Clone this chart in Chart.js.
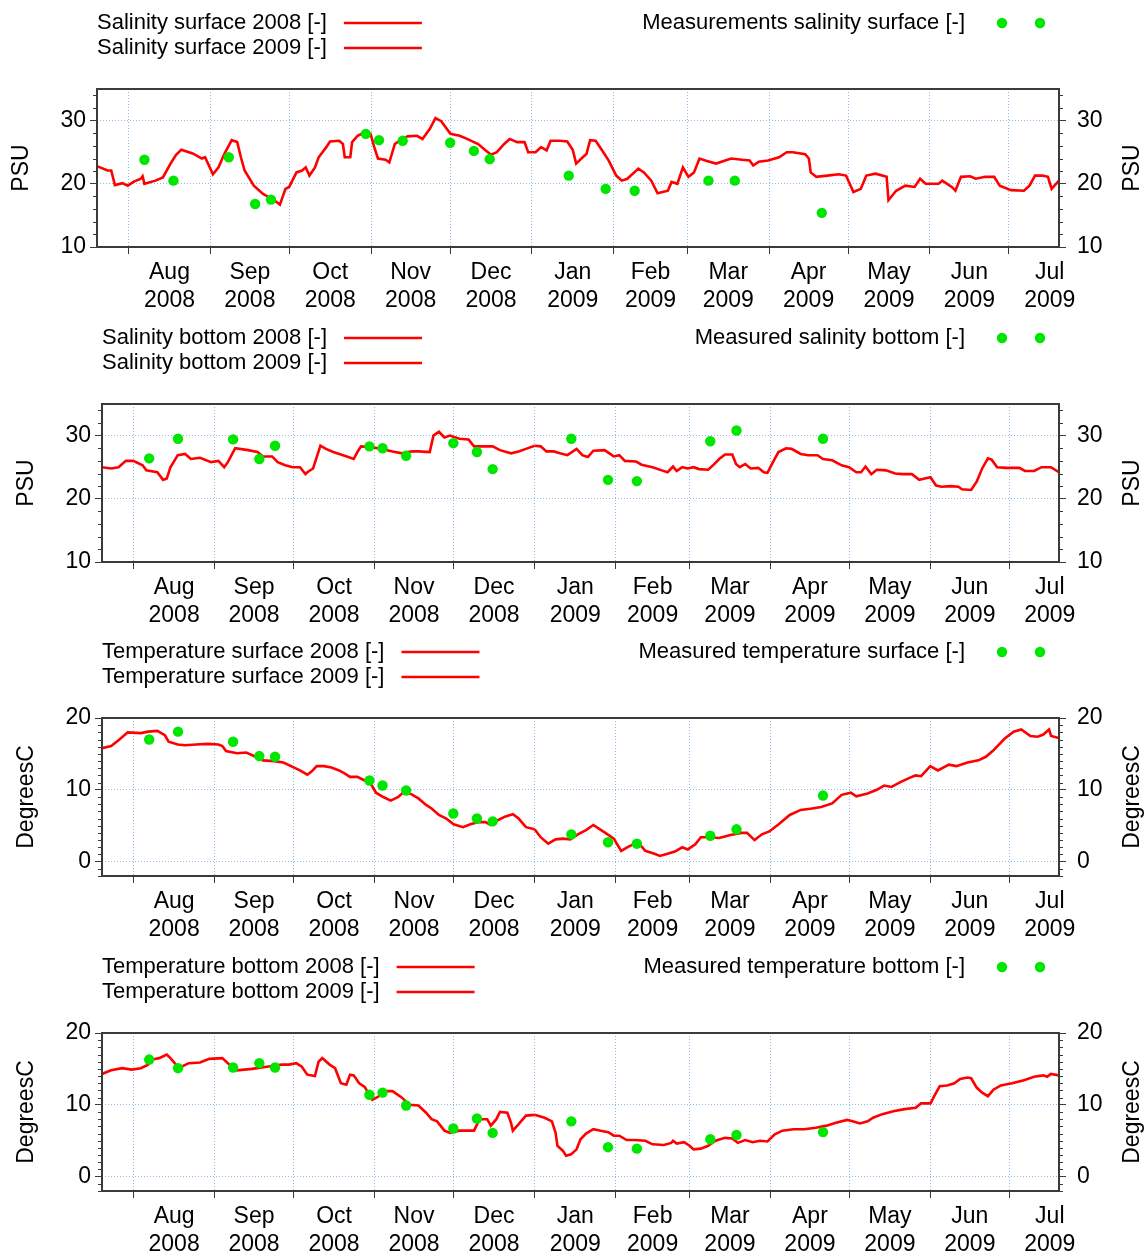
<!DOCTYPE html>
<html>
<head>
<meta charset="utf-8">
<title>Salinity and temperature 2008-2009</title>
<script src="https://cdn.jsdelivr.net/npm/chart.js@4.4.0/dist/chart.umd.min.js"></script>
<style>
  html, body { margin: 0; padding: 0; background: #fff; overflow: hidden; }
  canvas { position: absolute; left: 0; }
</style>
</head>
<body>
<canvas id="salSurf" width="1145" height="315" style="top:0px"></canvas>
<canvas id="salBot" width="1145" height="315" style="top:315px"></canvas>
<canvas id="tempSurf" width="1145" height="315" style="top:629px"></canvas>
<canvas id="tempBot" width="1145" height="315" style="top:944px"></canvas>
<script>
// x values of the model lines are days since 20 July 2008
const monthStarts = ['2008-08-01', '2008-09-01', '2008-10-01', '2008-11-01', '2008-12-01', '2009-01-01',
                     '2009-02-01', '2009-03-01', '2009-04-01', '2009-05-01', '2009-06-01', '2009-07-01'];
const monthNames = ['Aug', 'Sep', 'Oct', 'Nov', 'Dec', 'Jan', 'Feb', 'Mar', 'Apr', 'May', 'Jun', 'Jul'];
const monthYears = ['2008', '2008', '2008', '2008', '2008', '2009', '2009', '2009', '2009', '2009', '2009', '2009'];

const psuTicks = [10, 20, 30];
const degTicks = [0, 10, 20];

// sampling campaigns
const sampleDates = ['2008-08-07', '2008-08-18', '2008-09-08', '2008-09-18', '2008-09-24', '2008-10-30',
                     '2008-11-04', '2008-11-13', '2008-12-01', '2008-12-10', '2008-12-16', '2009-01-15',
                     '2009-01-29', '2009-02-09', '2009-03-09', '2009-03-19', '2009-04-21'];
const measSalSurf = [23.8, 20.5, 24.2, 16.8, 17.5, 27.9, 26.9, 26.8, 26.5, 25.2, 23.9, 21.3, 19.2, 18.9, 20.5, 20.5, 15.4];
const measSalBot = [26.4, 29.5, 29.4, 26.3, 28.4, 28.3, 28.0, 26.8, 28.8, 27.4, 24.7, 29.5, 23.0, 22.8, 29.1, 30.8, 29.5];
const measTempSurf = [17.0, 18.1, 16.7, 14.7, 14.6, 11.3, 10.6, 9.9, 6.7, 6.0, 5.6, 3.8, 2.7, 2.5, 3.6, 4.5, 9.2];
const measTempBot = [16.3, 15.1, 15.2, 15.8, 15.2, 11.4, 11.7, 9.9, 6.7, 8.1, 6.1, 7.7, 4.1, 3.9, 5.2, 5.8, 6.2];

// model output [day, value]
const salSurf2008 = [[0,22.8],[4,22.1],[5.4,22.1],[6.8,19.8],[9.6,20.1],[11.7,19.7],[13.8,20.3],[16.6,20.8],[17.3,21.2],
  [18,20.0],[22.2,20.5],[25,21.0],[27.9,23.2],[30,24.6],[32,25.4],[36.3,24.8],[39.8,24.0],[41,24.2],[44,21.5],[46.1,22.6],
  [48.3,24.7],[51.1,26.9],[53.2,26.6],[54.6,24.2],[56,22.1],[59.5,19.7],[63,18.4],[67.3,17.4],[69.4,16.7],[71.5,19.2],
  [72.9,19.5],[75.7,21.8],[77.8,22.1],[79.2,22.6],[80.6,21.3],[82.7,22.6],[84.1,24.2],[87,25.8],[88.4,26.7],[91.9,26.8],
  [93.3,26.3],[94,24.2],[96.1,24.2],[96.8,26.6],[98.9,27.6],[101.7,28.2],[103.8,27.9],[105.2,25.8],[106.6,24.0],[109.5,23.8],
  [110.9,23.4],[113,26.3],[115.8,27.1],[117.9,27.5],[121.4,27.6],[123.5,27.1],[126.3,28.7],[128.4,30.4],[130.6,29.9],
  [134.1,27.9],[137.6,27.6],[140.4,27.1],[144.6,26.3],[147.4,25.3],[149.5,24.6],[151.7,25.0],[154.5,26.3],[156.6,27.1],
  [159.4,26.6],[162.2,26.6],[163.6,25.0],[165,25.0]];
const salSurf2009 = [[165,25.0],[166.4,25.0],[168.5,25.8],[170.6,25.3],[172.1,26.8],[175.6,26.8],[178.4,26.7],[180.5,25.4],
  [181.8,23.2],[184.3,24.2],[185.7,24.7],[187.1,26.9],[189.2,26.8],[191.3,25.5],[194.1,23.7],[197,21.3],[199.1,20.5],
  [201.2,20.8],[205.4,22.4],[207.5,21.8],[210.3,20.5],[212.7,18.5],[216.6,18.9],[218,20.3],[220.2,20.0],[222.3,22.6],
  [224.4,21.1],[226.5,21.8],[228.6,24.0],[231.4,23.6],[234.9,23.2],[240.6,24.0],[244.8,23.8],[247.6,23.7],[249,22.9],
  [251.1,23.5],[254.6,23.7],[258.8,24.2],[261.7,25.0],[264,25.0],[268.7,24.7],[270.1,24.0],[270.8,21.8],[272.9,21.1],
  [277.1,21.3],[281.4,21.5],[284.2,21.3],[287,18.7],[289.8,19.2],[291.9,21.3],[295.4,21.6],[299.6,21.1],[300.3,17.4],
  [303.2,18.9],[306.7,19.7],[310.2,19.5],[312.3,20.8],[314.4,20.0],[319.3,20.0],[320.7,20.5],[324.3,19.5],[325.7,18.9],
  [327.8,21.1],[331.3,21.2],[333.4,20.8],[337,21.1],[340.4,21.1],[342.5,19.7],[346.8,19.0],[351.7,18.9],[353.8,19.7],
  [355.9,21.3],[358.7,21.3],[360.8,21.1],[362.2,19.2],[365,20.5]];

const salBot2008 = [[0,25.0],[3.5,24.8],[6.3,25.0],[9.1,26.0],[11.9,26.0],[15.5,25.3],[16.9,24.5],[21.1,24.2],[23.3,23.0],
  [24.7,23.2],[26.1,25.0],[28.9,26.9],[31.7,27.1],[33.9,26.3],[37.4,26.5],[41.6,25.8],[44.4,26.0],[46.6,25.0],[48,25.8],
  [50.8,28.0],[55.7,27.7],[59.3,27.4],[61.4,26.7],[64.9,26.7],[67,25.8],[69.9,25.3],[72.7,25.0],[75.5,25.0],[77.6,23.9],
  [78.3,24.2],[80.5,24.8],[83.3,28.4],[85.4,27.9],[88.2,27.4],[91.1,27.0],[93.9,26.6],[96,26.3],[97.4,27.4],[98.8,28.3],
  [102.4,28.2],[106.6,27.9],[110.8,27.5],[114.4,27.2],[116.5,27.4],[118.6,27.5],[120.7,27.5],[125,27.4],[126.4,30.0],
  [128.5,30.6],[130.6,29.7],[132.7,30.0],[136.3,29.5],[139.8,29.4],[141.9,28.3],[146.1,28.3],[149,28.3],[151.8,27.7],
  [156,27.2],[158.9,27.5],[161.7,27.9],[165,28.4]];
const salBot2009 = [[165,28.4],[167.3,28.3],[169.5,27.5],[172.3,27.5],[174.7,27.2],[177.5,26.9],[181,27.9],[183.2,26.9],
  [185.3,26.6],[187.4,27.6],[191.7,27.7],[193.8,27.1],[195.2,26.7],[197.3,26.9],[199.4,26.0],[203.7,25.9],[205.8,25.4],
  [210,25.0],[213.5,24.5],[215.7,24.2],[217.8,25.1],[219.2,24.4],[221.3,25.0],[223.4,24.8],[225.6,25.0],[227.7,24.7],
  [231.2,24.6],[233.3,25.4],[235.4,26.3],[237.6,27.0],[240.4,27.0],[241.8,25.5],[243.2,25.0],[245.3,25.5],[247.4,24.8],
  [250.3,24.9],[252.4,24.2],[253.8,24.1],[255.9,25.8],[258,27.4],[260.9,28.0],[263,27.9],[266.5,27.1],[269.3,26.9],
  [272.9,26.9],[275,26.3],[278.5,26.1],[282.1,25.3],[284.9,25.0],[287.7,24.2],[289.5,24.2],[291.2,25.1],[293.4,23.9],
  [295.5,24.6],[299,24.5],[302.5,24.0],[305.4,23.9],[308.9,23.9],[311.7,23.0],[313.8,23.2],[316,23.4],[318.1,22.1],
  [320.2,21.9],[323.7,22.0],[326.6,21.9],[328,21.5],[331.5,21.4],[333.6,22.7],[335.7,24.8],[337.9,26.4],[339.3,26.2],
  [341.4,25.0],[344.9,24.9],[349.9,24.9],[352,24.4],[355.5,24.4],[358.3,25.0],[361.9,25.0],[365,24.2]];

const tempSurf2008 = [[0,15.8],[3.5,16.1],[6.3,16.9],[9.8,18.0],[14.8,17.9],[17.6,18.1],[21.1,18.2],[24,17.6],[25.4,16.7],
  [28.9,16.3],[31.7,16.2],[35.9,16.3],[40.2,16.4],[44.4,16.3],[45.9,16.1],[47.3,15.4],[51.5,15.1],[55,15.2],[58.6,14.6],
  [61.4,14.1],[65.6,14.0],[69.2,13.8],[72.7,13.2],[75.5,12.7],[78.3,12.1],[79.8,12.5],[81.9,13.3],[84.7,13.3],[87.5,13.1],
  [90.4,12.7],[92.5,12.3],[94.6,11.8],[97.4,11.8],[100.2,11.3],[102.4,10.9],[104.5,9.6],[107.3,9.0],[110.1,8.5],[113,9.0],
  [115.1,9.7],[117.9,9.4],[120.7,8.8],[123.6,7.9],[125.7,7.4],[128.5,6.5],[131.3,6.0],[134.1,5.2],[137.7,4.8],[140.5,5.2],
  [143.3,5.5],[146.2,5.5],[148.3,5.1],[151.1,5.8],[153.9,6.3],[156.7,6.6],[158.9,6.0],[161.7,4.8],[165,4.5]];
const tempSurf2009 = [[165,4.5],[167.3,3.4],[170.2,2.5],[173,3.1],[175.8,3.2],[178.6,3.1],[181.5,3.8],[184.6,4.4],
  [187.4,5.1],[189.5,4.6],[192.4,3.9],[195.2,3.2],[198,1.5],[200.8,2.1],[204.4,2.7],[207.2,1.5],[210.7,1.1],[212.8,0.8],
  [215.7,1.1],[218.5,1.4],[221.3,2.0],[223.4,1.7],[226.3,2.4],[228.4,3.4],[231.2,3.4],[235.4,3.3],[239.7,3.7],[243.9,4.0],
  [246,4.0],[248.9,3.0],[251.7,3.8],[254.5,4.2],[258.1,5.2],[262.3,6.5],[266.5,7.2],[270.8,7.4],[274.3,7.6],[278.5,8.1],
  [282.1,9.3],[285.6,9.6],[287.7,9.1],[292,9.5],[295.5,10.0],[298.3,10.6],[301.1,10.4],[304.7,11.1],[308.2,11.7],
  [310.3,12.0],[312.4,11.9],[315.9,13.3],[318.8,12.7],[323,13.5],[325.9,13.3],[330.1,13.8],[334.3,14.1],[337.1,14.6],
  [340,15.5],[344.2,17.1],[347.7,18.1],[350.6,18.4],[354.1,17.5],[356.9,17.4],[359,17.7],[361.2,18.4],[362,17.5],[365,17.2]];

const tempBot2008 = [[0,14.3],[3.5,14.8],[7.7,15.1],[11.3,14.9],[14.8,15.1],[17.6,15.6],[19,16.3],[21.8,16.5],[24.7,17.0],
  [26.1,16.5],[28.2,15.6],[30.3,15.3],[33.1,15.8],[37.4,15.9],[40.9,16.4],[45.9,16.5],[48,15.8],[51.5,14.8],[57.2,15.0],
  [62.8,15.3],[68.5,15.6],[71.3,15.6],[74.1,15.8],[76.2,15.3],[78.3,14.2],[81.2,14.0],[82.6,16.0],[84,16.5],[86.8,15.6],
  [88.9,15.1],[91.1,13.0],[93.2,12.8],[94.6,14.2],[96,14.1],[98.1,13.0],[100.2,12.5],[103.1,10.7],[105.2,11.1],[108,11.9],
  [110.8,11.9],[114.4,11.0],[117.2,10.0],[120.7,9.9],[123.6,8.9],[125.7,8.0],[127.8,7.7],[130.6,6.4],[132.7,6.1],[136.3,6.4],
  [139.1,6.4],[141.9,6.4],[144,8.0],[146.9,8.0],[148.3,7.1],[150.4,8.0],[151.8,9.0],[154.6,8.9],[156,7.5],[156.7,6.4],
  [158.9,7.3],[161.7,8.5],[165,8.6]];
const tempBot2009 = [[165,8.6],[168.8,8.2],[171.6,7.7],[173,6.1],[173.7,4.3],[175.8,3.6],[177,2.9],[178.9,3.1],[181,3.8],
  [182.5,5.2],[184.6,6.0],[187.4,6.6],[190.2,6.4],[193.1,6.2],[195.2,5.7],[197.3,5.7],[200.1,5.1],[203,5.1],[207.2,5.0],
  [210,4.5],[214.3,4.4],[217.1,4.7],[217.8,5.0],[219.2,4.6],[222,4.8],[224.1,4.3],[225.6,3.8],[228.4,3.9],[231.2,4.3],
  [234,5.0],[237.6,5.4],[240.4,5.3],[242.5,4.7],[245.3,5.1],[248.2,4.8],[251,5.0],[253.8,4.9],[256.6,5.9],[259.5,6.4],
  [263.7,6.6],[267.9,6.6],[272.2,6.8],[276.4,7.1],[279.9,7.5],[284.2,7.9],[286.3,7.7],[289.1,7.4],[292,7.7],[294.1,8.2],
  [297.6,8.7],[301.8,9.1],[306.1,9.4],[310.3,9.6],[312.4,10.2],[316,10.2],[317.4,11.2],[319.5,12.6],[322.3,12.7],
  [325.1,13.0],[327.3,13.6],[330.1,13.8],[331.5,13.7],[333.6,12.4],[335.7,11.7],[337.9,11.2],[340,12.1],[342.8,12.7],
  [347.1,13.0],[351.3,13.4],[355.5,13.9],[359,14.1],[360.5,13.9],[361.9,14.3],[365,14.1]];

const FONT = "'Liberation Sans', Arial, sans-serif";
const RED = '#ff0000';
const GREEN = '#00e600';
const GRID = 'rgba(120, 175, 235, 0.85)';
const AXIS = '#3a3a3a';

const DAY0 = Date.UTC(2008, 6, 20);
function dayOf(iso) {
  const [y, m, d] = iso.split('-').map(Number);
  return (Date.UTC(y, m - 1, d) - DAY0) / 86400000;
}
const xMax = dayOf('2009-07-20');

// month starts carry grid + tick mark, month middles carry the two-line label
const xTicks = [];
monthStarts.forEach((s, i) => {
  const start = dayOf(s);
  const next = i + 1 < monthStarts.length ? dayOf(monthStarts[i + 1]) : dayOf('2009-08-01');
  xTicks.push({ value: start, label: '', major: true });
  xTicks.push({ value: (start + next) / 2, label: [monthNames[i], monthYears[i]], major: false });
});
const sampleDays = sampleDates.map(dayOf);

const panelDecor = {
  id: 'panelDecor',
  afterDraw(chart, args, o) {
    const { ctx, chartArea: a, scales } = chart;
    ctx.save();

    // minor ticks on both value axes
    ctx.strokeStyle = AXIS;
    ctx.lineWidth = 1;
    for (let v = o.yMin; v <= o.yMax + 1e-9; v += o.minorStep) {
      if (o.labels.includes(v)) continue;
      const y = Math.round(scales.y.getPixelForValue(v)) + 0.5;
      ctx.beginPath();
      ctx.moveTo(a.left - 4, y); ctx.lineTo(a.left, y);
      ctx.moveTo(a.right, y); ctx.lineTo(a.right + 4, y);
      ctx.stroke();
    }

    // plot frame
    ctx.lineWidth = 2;
    ctx.strokeStyle = AXIS;
    ctx.strokeRect(a.left, a.top, a.right - a.left, a.bottom - a.top);

    // axis titles, both read bottom to top
    ctx.fillStyle = '#000';
    ctx.font = '23px ' + FONT;
    ctx.textAlign = 'center';
    ctx.textBaseline = 'middle';
    const midY = (a.top + a.bottom) / 2;
    [a.left - 75, 1133].forEach(x => {
      ctx.save();
      ctx.translate(x, midY);
      ctx.rotate(-Math.PI / 2);
      ctx.fillText(o.title, 0, 0);
      ctx.restore();
    });

    // legend: model lines on the left, measurements on the right
    const rows = [23, 48];
    ctx.font = '22px ' + FONT;
    ctx.textAlign = 'left';
    const names = [o.lineLabel + ' 2008 [-]', o.lineLabel + ' 2009 [-]'];
    const tx = a.left;
    const w = Math.max(...names.map(n => ctx.measureText(n).width));
    ctx.strokeStyle = RED;
    ctx.lineWidth = 2.5;
    names.forEach((n, i) => {
      ctx.fillText(n, tx, rows[i]);
      ctx.beginPath();
      ctx.moveTo(tx + w + 17, rows[i]);
      ctx.lineTo(tx + w + 95, rows[i]);
      ctx.stroke();
    });
    ctx.textAlign = 'right';
    ctx.fillText(o.measLabel, 965, rows[0]);
    ctx.fillStyle = GREEN;
    [1002, 1040].forEach(x => {
      ctx.beginPath();
      ctx.arc(x, rows[0], 5.2, 0, Math.PI * 2);
      ctx.fill();
    });
    ctx.restore();
  }
};

function makePanel(p) {
  const toXY = pairs => pairs.map(([x, y]) => ({ x, y }));
  const line = { showLine: true, borderColor: RED, borderWidth: 2.6, pointRadius: 0, fill: false, tension: 0 };
  const yTickValues = [];
  for (let v = p.yMin; v <= p.yMax; v += p.minorStep) yTickValues.push(v);
  const isMajor = ctx => ctx.tick && p.labels.includes(ctx.tick.value);
  const tickFont = { size: 23, family: FONT };

  const yAxis = (position, width, padding, onArea) => ({
    type: 'linear',
    position,
    min: p.yMin,
    max: p.yMax,
    afterBuildTicks: s => { s.ticks = yTickValues.map(v => ({ value: v })); },
    afterFit: s => { s.width = width; },
    ticks: {
      autoSkip: false,
      padding,
      color: '#000',
      font: tickFont,
      callback: v => (p.labels.includes(v) ? String(v) : '')
    },
    grid: {
      drawOnChartArea: onArea,
      color: ctx => (isMajor(ctx) ? GRID : 'transparent'),
      tickColor: ctx => (isMajor(ctx) ? AXIS : 'transparent'),
      tickLength: 7,
      lineWidth: 1
    },
    border: { display: false, dash: [1, 2] }
  });

  new Chart(document.getElementById(p.id), {
    type: 'scatter',
    data: {
      datasets: [
        {
          label: p.measLabel,
          data: sampleDays.map((x, i) => ({ x, y: p.meas[i] })),
          pointRadius: 5.2,
          pointBackgroundColor: GREEN,
          pointBorderWidth: 0,
          showLine: false
        },
        { label: p.lineLabel + ' 2008 [-]', data: toXY(p.y2008), ...line },
        { label: p.lineLabel + ' 2009 [-]', data: toXY(p.y2009), ...line }
      ]
    },
    options: {
      responsive: false,
      animation: false,
      devicePixelRatio: 1,
      layout: { padding: { top: 89, right: 0, bottom: 0, left: 0 } },
      plugins: {
        legend: { display: false },
        tooltip: { enabled: false },
        panelDecor: p
      },
      scales: {
        x: {
          type: 'linear',
          position: 'bottom',
          min: 0,
          max: xMax,
          afterBuildTicks: s => { s.ticks = xTicks.map(t => ({ value: t.value })); },
          afterFit: s => { s.height = 68; },
          ticks: {
            autoSkip: false,
            maxRotation: 0,
            padding: 5,
            color: '#000',
            font: { size: 23, family: FONT, lineHeight: 1.22 },
            callback: (v, i) => xTicks[i].label
          },
          grid: {
            color: ctx => (ctx.tick && xTicks[ctx.index] && xTicks[ctx.index].major ? GRID : 'transparent'),
            tickColor: ctx => (ctx.tick && xTicks[ctx.index] && xTicks[ctx.index].major ? AXIS : 'transparent'),
            tickLength: 7,
            lineWidth: 1
          },
          border: { display: false, dash: [1, 2] }
        },
        y: yAxis('left', p.left, 4, true),
        y2: yAxis('right', 1145 - 1059, 11, false)
      }
    },
    plugins: [panelDecor]
  });
}

makePanel({ id: 'salSurf', left: 97, yMin: 10, yMax: 35, minorStep: 2, labels: psuTicks, title: 'PSU',
  lineLabel: 'Salinity surface', measLabel: 'Measurements salinity surface [-]',
  y2008: salSurf2008, y2009: salSurf2009, meas: measSalSurf });
makePanel({ id: 'salBot', left: 102, yMin: 10, yMax: 35, minorStep: 2, labels: psuTicks, title: 'PSU',
  lineLabel: 'Salinity bottom', measLabel: 'Measured salinity bottom [-]',
  y2008: salBot2008, y2009: salBot2009, meas: measSalBot });
makePanel({ id: 'tempSurf', left: 102, yMin: -2, yMax: 20, minorStep: 1, labels: degTicks, title: 'DegreesC',
  lineLabel: 'Temperature surface', measLabel: 'Measured temperature surface [-]',
  y2008: tempSurf2008, y2009: tempSurf2009, meas: measTempSurf });
makePanel({ id: 'tempBot', left: 102, yMin: -2, yMax: 20, minorStep: 1, labels: degTicks, title: 'DegreesC',
  lineLabel: 'Temperature bottom', measLabel: 'Measured temperature bottom [-]',
  y2008: tempBot2008, y2009: tempBot2009, meas: measTempBot });
</script>
</body>
</html>
